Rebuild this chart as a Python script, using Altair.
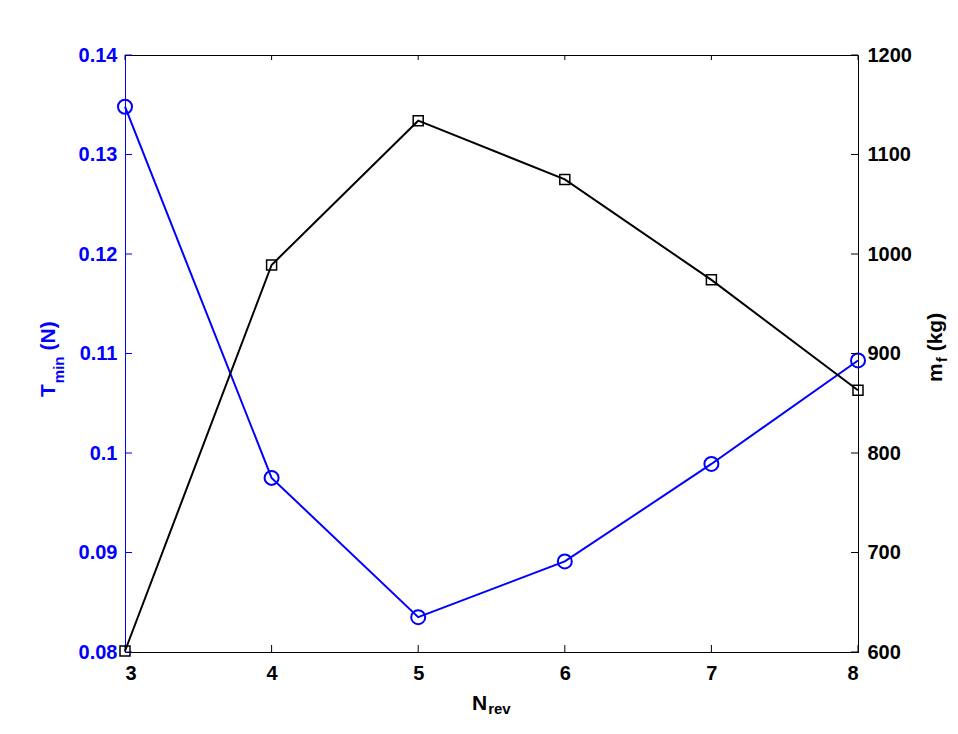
import altair as alt
import pandas as pd

# ---- data ----
N_rev = [3, 4, 5, 6, 7, 8]
T_min = [0.1348, 0.0975, 0.0835, 0.0891, 0.0989, 0.1093]
m_f = [601, 989, 1134, 1075, 974, 863]

x_ticks = [3, 4, 5, 6, 7, 8]
T_ticks = [0.08, 0.09, 0.10, 0.11, 0.12, 0.13, 0.14]
m_ticks = [600, 700, 800, 900, 1000, 1100, 1200]

BLUE = "#0000ff"
BLACK = "#000000"
FONT = "Liberation Sans"
W, H = 733, 597
LBL = 20      # tick label size
TS = 21       # title size
SS = 15       # subscript size

# Arial-bold advance widths (em) for laying out titles piece by piece
ADV = {"T": .611, "m": .889, "i": .278, "n": .611, "(": .333, "N": .722, ")": .333,
       "f": .333, "k": .556, "g": .611, "r": .389, "e": .556, "v": .556}


def width(s, size):
    return sum(ADV[c] for c in s) * size


df = pd.DataFrame({"N": N_rev, "T": T_min, "mf": m_f})
df_xt = pd.DataFrame({"N": x_ticks})
df_tt = pd.DataFrame({"T": T_ticks})
df_mt = pd.DataFrame({"mf": m_ticks})
one = pd.DataFrame({"a": [0]})

x_enc = alt.X(
    "N:Q",
    scale=alt.Scale(domain=[3, 8], nice=False, zero=False),
    axis=alt.Axis(
        values=x_ticks, ticks=False, grid=False, title=None,
        labelFont=FONT, labelFontSize=LBL, labelFontWeight="bold",
        labelColor=BLACK, domainColor=BLACK, domainWidth=1, labelPadding=11,
    ),
)

yT = alt.Y(
    "T:Q",
    scale=alt.Scale(domain=[0.08, 0.14], nice=False, zero=False),
    axis=alt.Axis(
        orient="left", values=T_ticks, format="~g", ticks=False, grid=False,
        title=None, labelFont=FONT, labelFontSize=LBL, labelFontWeight="bold",
        labelColor=BLUE, domainColor=BLUE, domainWidth=1, labelPadding=8,
    ),
)

ym = alt.Y(
    "mf:Q",
    scale=alt.Scale(domain=[600, 1200], nice=False, zero=False),
    axis=alt.Axis(
        orient="right", values=m_ticks, format="d", ticks=False, grid=False,
        title=None, labelFont=FONT, labelFontSize=LBL, labelFontWeight="bold",
        labelColor=BLACK, domainColor=BLACK, domainWidth=1, labelPadding=9,
    ),
)


def txt(s, size, x, y, color, angle=0):
    return alt.Chart(one).mark_text(
        text=s, font=FONT, fontSize=size, fontWeight="bold", color=color,
        align="left", baseline="alphabetic", angle=angle,
    ).encode(x=alt.value(x), y=alt.value(y))


# left (blue) layer
blue_line = alt.Chart(df).mark_line(color=BLUE, strokeWidth=2).encode(x=x_enc, y=yT)
blue_pts = alt.Chart(df).mark_point(
    shape="circle", size=196, filled=False, color=BLUE, strokeWidth=2, opacity=1
).encode(x=x_enc, y=yT)
blue_ticks = alt.Chart(df_tt).mark_rule(color=BLUE, strokeWidth=1).encode(
    y=yT, x=alt.value(0), x2=alt.value(7)
)
xt_bottom = alt.Chart(df_xt).mark_rule(color=BLACK, strokeWidth=1).encode(
    x=x_enc, y=alt.value(H), y2=alt.value(H - 7)
)
xt_top = alt.Chart(df_xt).mark_rule(color=BLACK, strokeWidth=1).encode(
    x=x_enc, y=alt.value(0), y2=alt.value(5)
)

# left title "T_min (N)", rotated, reading bottom to top
ly = 342
y1 = ly - width("T", TS) - 1
y2 = y1 - width("min", SS) - 6
left_title = [
    txt("T", TS, -70, ly, BLUE, 270),
    txt("min", SS, -61, y1, BLUE, 270),
    txt("(N)", TS, -70, y2, BLUE, 270),
]

# x title "N_rev"
xx = 347
x_title = [
    txt("N", TS, xx, 655, BLACK),
    txt("rev", SS, xx + width("N", TS) + 1, 659, BLACK),
]

left = alt.layer(blue_line, blue_pts, blue_ticks, xt_bottom, xt_top, *left_title, *x_title)

# right (black) layer
black_line = alt.Chart(df).mark_line(color=BLACK, strokeWidth=2).encode(x=x_enc, y=ym)
black_pts = alt.Chart(df).mark_point(
    shape="square", size=100, filled=False, color=BLACK, strokeWidth=1.5, opacity=1
).encode(x=x_enc, y=ym)
black_ticks = alt.Chart(df_mt).mark_rule(color=BLACK, strokeWidth=1).encode(
    y=ym, x=alt.value(W), x2=alt.value(W - 7)
)

# right title "m_f (kg)", rotated
ry = 327
r1 = ry - width("m", TS) - 1
r2 = r1 - width("f", SS) - 6
right_title = [
    txt("m", TS, 817, ry, BLACK, 270),
    txt("f", SS, 822, r1, BLACK, 270),
    txt("(kg)", TS, 817, r2, BLACK, 270),
]

right = alt.layer(black_line, black_pts, black_ticks, *right_title)

chart = (
    alt.layer(left, right)
    .resolve_scale(y="independent")
    .properties(
        width=W, height=H,
        padding={"left": 117, "top": 47, "right": 92, "bottom": 70},
        autosize=alt.AutoSizeParams(type="none"),
        background="white",
    )
    .configure_view(stroke=BLACK, strokeWidth=1)
)

chart.save("out.html", embed_options={"renderer": "svg", "actions": False})
